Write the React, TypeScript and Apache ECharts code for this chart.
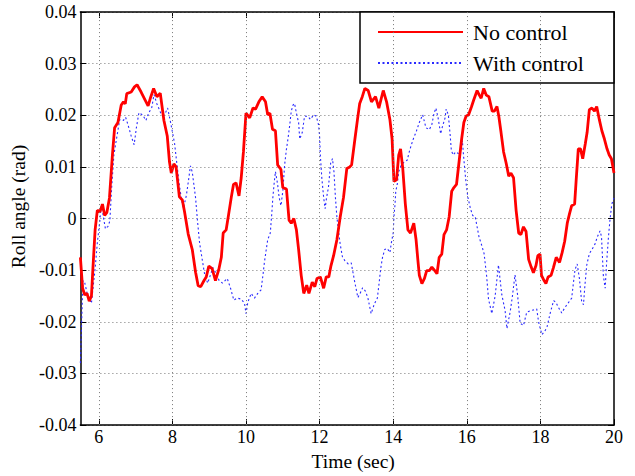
import React, { useEffect, useRef } from "react";
import * as echarts from "echarts";

const seriesNames = ["No control", "With control"];
const xTicks = [6, 8, 10, 12, 14, 16, 18, 20];
const xGridLines = [6, 8, 10, 12, 14, 16, 18];
const yTicks = [-0.04, -0.03, -0.02, -0.01, 0, 0.01, 0.02, 0.03, 0.04];

const noControlT = [
  5.5, 5.56, 5.62, 5.68, 5.74, 5.8, 5.84, 5.9, 5.96, 6.03, 6.1, 6.16, 6.22, 6.29, 6.37, 6.43, 6.52, 6.61, 6.67, 6.72,
  6.76, 6.88, 6.97, 7.04, 7.15, 7.27, 7.34, 7.41, 7.49, 7.58, 7.67, 7.77, 7.86, 7.92, 7.97, 8.04, 8.1, 8.19, 8.27, 8.33,
  8.43, 8.54, 8.63, 8.7, 8.77, 8.86, 8.92, 8.99, 9.08, 9.17, 9.26, 9.33, 9.38, 9.46, 9.53, 9.6, 9.66, 9.73, 9.81, 9.87,
  9.93, 10.0, 10.1, 10.19, 10.26, 10.35, 10.44, 10.53, 10.59, 10.65, 10.72, 10.8, 10.86, 10.95, 11.0, 11.1, 11.17, 11.23, 11.3, 11.37,
  11.43, 11.5, 11.57, 11.65, 11.71, 11.8, 11.87, 11.93, 12.02, 12.11, 12.18, 12.25, 12.31, 12.38, 12.47, 12.56, 12.65, 12.74, 12.82, 12.87,
  12.96, 13.03, 13.09, 13.16, 13.23, 13.32, 13.41, 13.52, 13.61, 13.73, 13.82, 13.91, 13.97, 14.02, 14.09, 14.15, 14.2, 14.26, 14.33, 14.4,
  14.47, 14.56, 14.62, 14.67, 14.71, 14.78, 14.85, 14.91, 14.98, 15.05, 15.13, 15.19, 15.25, 15.32, 15.38, 15.45, 15.52, 15.59, 15.65, 15.72,
  15.79, 15.86, 15.92, 15.98, 16.05, 16.13, 16.19, 16.28, 16.34, 16.39, 16.46, 16.53, 16.6, 16.69, 16.75, 16.82, 16.87, 16.93, 17.0, 17.07,
  17.14, 17.2, 17.27, 17.34, 17.41, 17.47, 17.54, 17.61, 17.68, 17.75, 17.81, 17.88, 17.93, 17.99, 18.03, 18.1, 18.15, 18.21, 18.29, 18.35,
  18.43, 18.52, 18.59, 18.66, 18.73, 18.79, 18.85, 18.93, 18.97, 19.03, 19.09, 19.15, 19.22, 19.27, 19.33, 19.4, 19.47, 19.53, 19.6, 19.67,
  19.74, 19.81, 19.87, 19.93, 20.0,
];
const noControlY = [
  -0.0075, -0.0135, -0.0148, -0.0145, -0.016, -0.015, -0.0097, -0.0022, 0.0016, 0.0013, 0.0028, 0.0006, 0.0012, 0.004, 0.0123, 0.0176, 0.0186, 0.022, 0.0226, 0.0222,
  0.0242, 0.0245, 0.0255, 0.0259, 0.0245, 0.0228, 0.0218, 0.0235, 0.0252, 0.0236, 0.0243, 0.019, 0.016, 0.011, 0.0088, 0.0106, 0.01, 0.0042, 0.0036, 0.0013,
  -0.003, -0.006, -0.0104, -0.013, -0.0132, -0.012, -0.0113, -0.0092, -0.0097, -0.012, -0.0099, -0.0075, -0.0028, -0.0022, 0.0009, 0.0041, 0.0066, 0.0069, 0.0044, 0.0079,
  0.0129, 0.0204, 0.0195, 0.0214, 0.0212, 0.0226, 0.0236, 0.0226, 0.0201, 0.0204, 0.0173, 0.017, 0.0104, 0.0095, 0.006, 0.0057, -0.0003, -0.0009, 0.0, -0.0022,
  -0.006, -0.011, -0.0145, -0.0129, -0.0145, -0.0123, -0.0132, -0.0116, -0.0113, -0.0135, -0.0113, -0.0113, -0.0091, -0.0072, -0.0041, 0.0003, 0.0041, 0.0097, 0.01, 0.0104,
  0.0154, 0.0192, 0.0223, 0.0236, 0.0252, 0.0248, 0.0226, 0.0236, 0.0214, 0.0248, 0.0226, 0.0192, 0.0154, 0.0072, 0.0075, 0.0123, 0.0135, 0.0097, 0.0028, -0.0022,
  -0.0028, -0.0009, -0.004, -0.008, -0.011, -0.0126, -0.0116, -0.0101, -0.0101, -0.0094, -0.0101, -0.0107, -0.0075, -0.0069, -0.0031, -0.0022, 0.0003, 0.0053, 0.006, 0.0066,
  0.011, 0.0154, 0.0186, 0.0198, 0.0201, 0.0217, 0.023, 0.0248, 0.0239, 0.0233, 0.0252, 0.0239, 0.0236, 0.0208, 0.0208, 0.0217, 0.0198, 0.0167, 0.0129, 0.0107,
  0.0082, 0.0088, 0.0079, 0.0016, -0.0028, -0.0031, -0.0016, -0.0025, -0.0079, -0.0094, -0.0105, -0.0091, -0.0072, -0.0069, -0.011, -0.012, -0.0126, -0.0113, -0.011, -0.0096,
  -0.0075, -0.0085, -0.0066, -0.0044, -0.0009, 0.0009, 0.0025, 0.0028, 0.0072, 0.0135, 0.0135, 0.0116, 0.0145, 0.0167, 0.0211, 0.0214, 0.0208, 0.0217, 0.0192, 0.017,
  0.0154, 0.0135, 0.0123, 0.0116, 0.0088,
];

const withControlT = [
  5.5, 5.53, 5.57, 5.62, 5.7, 5.8, 5.85, 5.9, 5.96, 6.03, 6.07, 6.12, 6.18, 6.25, 6.3, 6.35, 6.41, 6.48, 6.57, 6.67,
  6.73, 6.8, 6.88, 6.96, 7.02, 7.09, 7.2, 7.28, 7.36, 7.44, 7.5, 7.58, 7.68, 7.78, 7.87, 7.96, 8.06, 8.12, 8.18, 8.24,
  8.3, 8.38, 8.44, 8.49, 8.54, 8.63, 8.68, 8.74, 8.81, 8.88, 8.96, 9.03, 9.1, 9.18, 9.27, 9.36, 9.49, 9.58, 9.67, 9.76,
  9.87, 9.96, 10.0, 10.05, 10.14, 10.23, 10.32, 10.41, 10.46, 10.5, 10.55, 10.59, 10.66, 10.7, 10.73, 10.77, 10.8, 10.86, 10.9, 10.95,
  11.0, 11.05, 11.1, 11.14, 11.19, 11.23, 11.28, 11.32, 11.37, 11.43, 11.46, 11.53, 11.59, 11.68, 11.75, 11.84, 11.91, 11.97, 12.0, 12.02,
  12.06, 12.11, 12.15, 12.19, 12.24, 12.3, 12.35, 12.39, 12.43, 12.47, 12.51, 12.56, 12.62, 12.69, 12.78, 12.86, 12.95, 13.04, 13.1, 13.17,
  13.24, 13.31, 13.4, 13.49, 13.57, 13.62, 13.66, 13.71, 13.77, 13.84, 13.91, 13.95, 14.0, 14.02, 14.05, 14.07, 14.11, 14.15, 14.22, 14.31,
  14.38, 14.44, 14.49, 14.56, 14.62, 14.71, 14.8, 14.89, 14.98, 15.05, 15.11, 15.16, 15.22, 15.29, 15.33, 15.41, 15.44, 15.5, 15.55, 15.58,
  15.63, 15.7, 15.77, 15.83, 15.88, 15.91, 15.95, 15.98, 16.03, 16.1, 16.16, 16.23, 16.28, 16.33, 16.41, 16.47, 16.54, 16.59, 16.68, 16.77,
  16.86, 16.95, 17.04, 17.09, 17.18, 17.24, 17.31, 17.38, 17.45, 17.54, 17.63, 17.72, 17.81, 17.9, 17.95, 18.04, 18.12, 18.18, 18.27, 18.36,
  18.42, 18.49, 18.58, 18.66, 18.75, 18.85, 18.9, 18.94, 19.0, 19.06, 19.12, 19.17, 19.21, 19.26, 19.33, 19.4, 19.48, 19.55, 19.62, 19.66,
  19.71, 19.76, 19.8, 19.85, 19.89, 19.94, 20.0,
];
const withControlY = [
  -0.028, -0.021, -0.012, -0.0125, -0.015, -0.0164, -0.013, -0.0097, -0.0047, -0.0003, 0.0028, 0.0005, -0.002, -0.0015, -0.0005, 0.006, 0.0123, 0.0154, 0.0192, 0.019,
  0.0196, 0.018, 0.016, 0.0143, 0.0175, 0.0205, 0.02, 0.019, 0.0205, 0.0215, 0.024, 0.0222, 0.0205, 0.02, 0.0214, 0.0183, 0.0145, 0.0107, 0.007, 0.004,
  0.002, 0.0045, 0.0075, 0.0102, 0.009, 0.004, -0.0003, -0.0048, -0.0079, -0.011, -0.0125, -0.011, -0.0095, -0.0105, -0.012, -0.0125, -0.0116, -0.0135, -0.0158, -0.0154,
  -0.0156, -0.0164, -0.0184, -0.0162, -0.0145, -0.0154, -0.0145, -0.0138, -0.011, -0.0085, -0.006, -0.0041, -0.0028, 0.0009, 0.0041, 0.0072, 0.0091, 0.0066, 0.0041, 0.0025,
  0.0053, 0.0104, 0.0135, 0.0154, 0.0182, 0.0208, 0.022, 0.0223, 0.0204, 0.0186, 0.0154, 0.0167, 0.0198, 0.0198, 0.0192, 0.0201, 0.0198, 0.0182, 0.016, 0.0123,
  0.0079, 0.0041, 0.0019, 0.0041, 0.006, 0.0107, 0.0116, 0.0091, 0.0041, 0.0003, -0.0022, -0.005, -0.0074, -0.0082, -0.0088, -0.0086, -0.0121, -0.0153, -0.0145, -0.0134,
  -0.014, -0.0153, -0.0184, -0.0165, -0.0154, -0.0123, -0.0097, -0.0075, -0.006, -0.0058, -0.0066, -0.0047, -0.0028, 0.0003, 0.0028, 0.0053, 0.0066, 0.0091, 0.0104, 0.011,
  0.0113, 0.013, 0.0142, 0.0157, 0.0167, 0.0186, 0.0201, 0.0176, 0.0172, 0.0182, 0.0204, 0.0214, 0.0195, 0.0164, 0.0176, 0.0195, 0.0212, 0.02, 0.016, 0.0132,
  0.0123, 0.0129, 0.0126, 0.0132, 0.0151, 0.0123, 0.0091, 0.0069, 0.0041, 0.0019, 0.0006, 0.0003, -0.0016, -0.0035, -0.0053, -0.0068, -0.0112, -0.0156, -0.0184, -0.015,
  -0.009, -0.0147, -0.0178, -0.0213, -0.018, -0.015, -0.0109, -0.0148, -0.0203, -0.0207, -0.0181, -0.0179, -0.0177, -0.0175, -0.02, -0.0225, -0.0218, -0.021, -0.0182, -0.0159,
  -0.0162, -0.0172, -0.0183, -0.0173, -0.0164, -0.0154, -0.0123, -0.0099, -0.0088, -0.0116, -0.016, -0.0167, -0.0129, -0.009, -0.0068, -0.006, -0.005, -0.0035, -0.0024, -0.0035,
  -0.011, -0.0135, -0.0085, -0.0035, -0.0003, 0.0028, 0.004,
];

const FONT = "Liberation Serif";

export default function App() {
  const ref = useRef<HTMLDivElement>(null);
  useEffect(() => {
    document.body.style.margin = "0";
    const chart = echarts.init(ref.current!, null, { renderer: "svg" });
    const pairs = (t: number[], y: number[]) => t.map((v, i) => [v, y[i]]);
    const gridLineStyle = { color: "#777", width: 1, type: [1, 3] as number[] };
    const tickStyle = { show: true, inside: true, length: 6, lineStyle: { color: "#000", width: 1 } };
    const option: any = {
      animation: false,
      backgroundColor: "#fff",
      textStyle: { fontFamily: FONT },
      grid: { left: 78, right: 21, top: 12, bottom: 41, show: false },
      legend: {
        left: 360,
        top: 12,
        orient: "vertical",
        data: seriesNames,
        itemWidth: 85,
        itemHeight: 14,
        itemGap: 9,
        padding: [9, 30, 9, 17],
        borderColor: "#000",
        borderWidth: 1.5,
        backgroundColor: "#fff",
        itemStyle: { opacity: 0 },
        textStyle: { fontSize: 22, lineHeight: 22, color: "#000", fontFamily: FONT, padding: [0, 0, 0, 5] },
      },
      xAxis: [
        {
          type: "value",
          min: 5.5,
          max: 20,
          position: "bottom",
          name: "Time (sec)",
          nameLocation: "middle",
          nameGap: 19,
          nameTextStyle: { fontSize: 19.5, color: "#000", fontFamily: FONT, padding: [0, 0, 0, 12] },
          axisLine: { show: true, onZero: false, lineStyle: { color: "#000", width: 1.5 } },
          axisTick: { ...tickStyle, customValues: xTicks },
          axisLabel: { customValues: xTicks, fontSize: 18, color: "#000", fontFamily: FONT, margin: 3 },
          splitLine: { show: false },
        },
        {
          type: "value",
          min: 5.5,
          max: 20,
          position: "top",
          axisLine: { show: true, onZero: false, lineStyle: { color: "#000", width: 1.5 } },
          axisTick: { ...tickStyle, customValues: xTicks },
          axisLabel: { show: false },
          splitLine: { show: false },
        },
      ],
      yAxis: [
        {
          type: "value",
          min: yTicks[0],
          max: yTicks[yTicks.length - 1],
          interval: 0.01,
          position: "left",
          name: "Roll angle (rad)",
          nameLocation: "middle",
          nameGap: 40,
          nameTextStyle: { fontSize: 19.5, color: "#000", fontFamily: FONT, padding: [0, 0, 0, 24] },
          axisLine: { show: true, onZero: false, lineStyle: { color: "#000", width: 1.5 } },
          axisTick: tickStyle,
          axisLabel: {
            fontSize: 18,
            color: "#000",
            fontFamily: FONT,
            margin: 4,
            formatter: (v: number) => (Math.abs(v) < 1e-9 ? "0" : v.toFixed(2)),
          },
          splitLine: { show: true, lineStyle: gridLineStyle },
        },
        {
          type: "value",
          min: yTicks[0],
          max: yTicks[yTicks.length - 1],
          interval: 0.01,
          position: "right",
          axisLine: { show: true, onZero: false, lineStyle: { color: "#000", width: 1.5 } },
          axisTick: tickStyle,
          axisLabel: { show: false },
          splitLine: { show: false },
        },
      ],
      series: [
        {
          name: "gridlines",
          type: "line",
          data: [],
          z: 1,
          silent: true,
          markLine: {
            silent: true,
            symbol: ["none", "none"],
            label: { show: false },
            lineStyle: gridLineStyle,
            emphasis: { disabled: true },
            data: xGridLines.map((v) => ({ xAxis: v })),
          },
        },
        {
          name: seriesNames[0],
          type: "line",
          data: pairs(noControlT, noControlY),
          showSymbol: false,
          symbol: "none",
          z: 3,
          lineStyle: { color: "#ff0000", width: 2.8 },
          itemStyle: { color: "#ff0000" },
        },
        {
          name: seriesNames[1],
          type: "line",
          data: pairs(withControlT, withControlY),
          showSymbol: false,
          symbol: "none",
          z: 2,
          lineStyle: { color: "#2a2aff", width: 1.1, type: [2, 2.5] },
          itemStyle: { color: "#2a2aff" },
        },
      ],
    };
    chart.setOption(option);
    return () => chart.dispose();
  }, []);
  return <div ref={ref} style={{ width: 635, height: 476 }} />;
}
